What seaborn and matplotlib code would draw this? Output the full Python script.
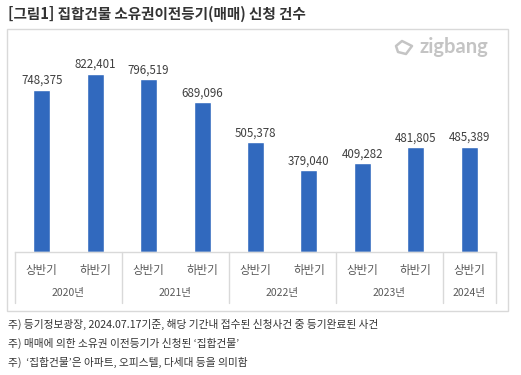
import matplotlib
matplotlib.use('Agg')
import matplotlib.pyplot as plt
import seaborn as sns
import pandas as pd
from matplotlib.patches import Rectangle, Polygon

sns.set_style('white')
plt.rcParams['font.family'] = ['Noto Sans CJK KR', 'DejaVu Sans']

# data
periods = ['2020-1', '2020-2', '2021-1', '2021-2', '2022-1', '2022-2', '2023-1', '2023-2', '2024-1']
halves = ['상반기', '하반기', '상반기', '하반기', '상반기', '하반기', '상반기', '하반기', '상반기']
years = ['2020년', '2021년', '2022년', '2023년', '2024년']
counts = [748375, 822401, 796519, 689096, 505378, 379040, 409282, 481805, 485389]

title = '[그림1] 집합건물 소유권이전등기(매매) 신청 건수'
notes = ['주) 등기정보광장, 2024.07.17기준, 해당 기간내 접수된 신청사건 중 등기완료된 사건',
         '주) 매매에 의한 소유권 이전등기가 신청된 \u2018집합건물\u2019',
         '주)  \u2018집합건물\u2019은 아파트, 오피스텔, 다세대 등을 의미함']

df = pd.DataFrame({'period': periods, 'count': counts})

fig = plt.figure(figsize=(5.21, 3.75), dpi=100)
ax = fig.add_axes([15 / 521, 1 - 252 / 375, 481 / 521, 217 / 375])

sns.barplot(data=df, x='period', y='count', color='#3169be', width=0.32,
            saturation=1, ax=ax)
ax.set_ylim(0, 1000000)
ax.set_xlim(-0.5, len(periods) - 0.5)
ax.set_xlabel('')
ax.set_ylabel('')
ax.set_xticks([])
ax.set_yticks([])
for s in ['top', 'left', 'right']:
    ax.spines[s].set_visible(False)
ax.spines['bottom'].set_color('#d9d9d9')
ax.spines['bottom'].set_linewidth(1)

for i, v in enumerate(counts):
    ax.text(i, v + 12000, f'{v:,}', ha='center', va='bottom', fontsize=8.3,
            color='#404040')

tr = ax.get_xaxis_transform()
for i, h in enumerate(halves):
    ax.text(i, -0.085, h, transform=tr, ha='center', va='center',
            fontsize=8.3, color='#595959')

year_pos = [0.5, 2.5, 4.5, 6.5, 8]
for x, y in zip(year_pos, years):
    ax.text(x, -0.19, y, transform=tr, ha='center', va='center',
            fontsize=7.5, color='#595959')

for x in [-0.5, 1.5, 3.5, 5.5, 7.5, 8.5]:
    ax.plot([x, x], [0, -0.235], transform=tr, color='#d9d9d9', lw=1,
            clip_on=False)

# outer box
fig.patches.append(Rectangle((7 / 521, 1 - 311 / 375), 501 / 521, 282 / 375,
                             transform=fig.transFigure, fill=False,
                             edgecolor='#d9d9d9', lw=1))

fig.text(8 / 521, 1 - 14 / 375, title, fontsize=10.5, fontweight='bold',
         color='#333333', va='center', ha='left')

# logo
fig.text(488 / 521, 1 - 47 / 375, 'zigbang', fontsize=14.5, fontweight='bold',
         family=['Lato', 'DejaVu Sans'], color='#c4c4c4', va='center', ha='right')
icon = [(396, 46), (402, 41), (412, 46), (406, 54), (398, 52)]
fig.patches.append(Polygon([(x / 521, 1 - y / 375) for x, y in icon],
                           closed=True, fill=False, edgecolor='#c4c4c4',
                           lw=1.8, joinstyle='round',
                           transform=fig.transFigure))

for k, n in enumerate(notes):
    fig.text(8 / 521, 1 - (324 + 19 * k) / 375, n, fontsize=7.7, color='#333333',
             va='center', ha='left')

fig.savefig('out.png', dpi=100)
